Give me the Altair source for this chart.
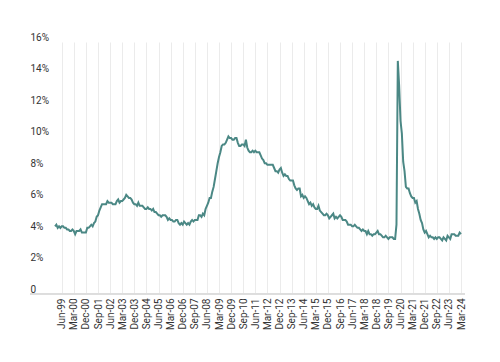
import altair as alt
import pandas as pd

MONTHS = ["Jan", "Feb", "Mar", "Apr", "May", "Jun", "Jul", "Aug", "Sep", "Oct", "Nov", "Dec"]

# Monthly rate (%), Jan 1999 - Mar 2024
r1999 = [4.3, 4.4, 4.2, 4.3, 4.2, 4.3, 4.3, 4.2, 4.2, 4.1, 4.1, 4.0]
r2000 = [4.0, 4.1, 4.0, 3.8, 4.0, 4.0, 4.0, 4.1, 3.9, 3.9, 3.9, 3.9]
r2001 = [4.2, 4.2, 4.3, 4.4, 4.3, 4.5, 4.6, 4.9, 5.0, 5.3, 5.5, 5.7]
r2002 = [5.7, 5.7, 5.7, 5.9, 5.8, 5.8, 5.8, 5.7, 5.7, 5.7, 5.9, 6.0]
r2003 = [5.8, 5.9, 5.9, 6.0, 6.1, 6.3, 6.2, 6.1, 6.1, 6.0, 5.8, 5.7]
r2004 = [5.7, 5.6, 5.8, 5.6, 5.6, 5.6, 5.5, 5.4, 5.4, 5.5, 5.4, 5.4]
r2005 = [5.3, 5.4, 5.2, 5.2, 5.1, 5.0, 5.0, 4.9, 5.0, 5.0, 5.0, 4.9]
r2006 = [4.7, 4.8, 4.7, 4.7, 4.6, 4.6, 4.7, 4.7, 4.5, 4.4, 4.5, 4.4]
r2007 = [4.6, 4.5, 4.4, 4.5, 4.4, 4.6, 4.7, 4.6, 4.7, 4.7, 4.7, 5.0]
r2008 = [5.0, 4.9, 5.1, 5.0, 5.4, 5.6, 5.8, 6.1, 6.1, 6.5, 6.8, 7.3]
r2009 = [7.8, 8.3, 8.7, 9.0, 9.4, 9.5, 9.5, 9.6, 9.8, 10.0, 9.9, 9.9]
r2010 = [9.8, 9.8, 9.9, 9.9, 9.6, 9.4, 9.4, 9.5, 9.5, 9.4, 9.8, 9.3]
r2011 = [9.1, 9.0, 9.0, 9.1, 9.0, 9.1, 9.0, 9.0, 9.0, 8.8, 8.6, 8.5]
r2012 = [8.3, 8.3, 8.2, 8.2, 8.2, 8.2, 8.2, 8.0, 7.8, 7.8, 7.7, 7.9]
r2013 = [8.0, 7.7, 7.5, 7.6, 7.5, 7.5, 7.3, 7.2, 7.2, 7.2, 6.9, 6.7]
r2014 = [6.6, 6.7, 6.7, 6.2, 6.3, 6.1, 6.2, 6.1, 5.9, 5.7, 5.8, 5.6]
r2015 = [5.7, 5.5, 5.4, 5.4, 5.6, 5.3, 5.2, 5.1, 5.0, 5.0, 5.1, 5.0]
r2016 = [4.8, 4.9, 5.0, 5.1, 4.8, 4.9, 4.8, 4.9, 5.0, 4.9, 4.7, 4.7]
r2017 = [4.7, 4.6, 4.4, 4.4, 4.4, 4.3, 4.3, 4.4, 4.3, 4.2, 4.2, 4.1]
r2018 = [4.0, 4.1, 4.0, 4.0, 3.8, 4.0, 3.8, 3.8, 3.7, 3.8, 3.8, 3.9]
r2019 = [4.0, 3.8, 3.8, 3.7, 3.6, 3.6, 3.7, 3.6, 3.5, 3.6, 3.6, 3.6]
r2020 = [3.5, 3.5, 4.4, 14.8, 13.2, 11.0, 10.2, 8.4, 7.8, 6.8, 6.7, 6.7]
r2021 = [6.4, 6.2, 6.1, 6.1, 5.8, 5.9, 5.4, 5.1, 4.7, 4.5, 4.1, 3.9]
r2022 = [4.0, 3.8, 3.6, 3.7, 3.6, 3.6, 3.5, 3.6, 3.5, 3.6, 3.6, 3.5]
r2023 = [3.4, 3.6, 3.5, 3.4, 3.7, 3.6, 3.5, 3.8, 3.8, 3.8, 3.7, 3.7]
r2024 = [3.7, 3.9, 3.8]

years = list(range(1999, 2025))
series = [r1999, r2000, r2001, r2002, r2003, r2004, r2005, r2006, r2007,
          r2008, r2009, r2010, r2011, r2012, r2013, r2014, r2015, r2016,
          r2017, r2018, r2019, r2020, r2021, r2022, r2023, r2024]

labels, values = [], []
for y, vals in zip(years, series):
    for m, v in enumerate(vals):
        labels.append(f"{MONTHS[m]}-{str(y)[2:]}")
        values.append(v)

df = pd.DataFrame({"month": labels, "rate": values})
tick_labels = labels[5::9]  # Jun-99, Mar-00, ... Mar-24

W, H = 406, 252
FONT = "Roboto"

line = alt.Chart(df).mark_line(color="#4b8885", strokeWidth=2).encode(
    x=alt.X("month:O", sort=None, title=None,
            scale=alt.Scale(type="point", padding=0),
            axis=alt.Axis(values=tick_labels, labelAngle=-90, grid=True,
                          gridColor="#ebebeb", gridWidth=1, ticks=False,
                          domain=False, labelPadding=4, labelFontSize=10,
                          labelColor="#333333", labelFont=FONT)),
    y=alt.Y("rate:Q", title=None,
            scale=alt.Scale(domain=[0, 16], nice=False, zero=True),
            axis=alt.Axis(values=[0, 2, 4, 6, 8, 10, 12, 14, 16], grid=False,
                          domain=False, ticks=False, labelAlign="left",
                          labelBaseline="bottom", labelPadding=25,
                          labelFontSize=10, labelColor="#333333", labelFont=FONT,
                          labelExpr="datum.value == 0 ? '0' : datum.value + '%'")),
)

baseline = alt.Chart(df).mark_rule(color="#dddddd", strokeWidth=1).encode(
    x=alt.value(-25), x2=alt.value(W + 4), y=alt.value(H)
)

chart = alt.layer(baseline, line).properties(
    width=W, height=H,
    autosize=alt.AutoSizeParams(type="none"),
    padding={"left": 47, "top": 34, "right": 31, "bottom": 60},
).configure_view(stroke=None)

chart.save("out.html", embed_options={"renderer": "svg", "actions": False})
